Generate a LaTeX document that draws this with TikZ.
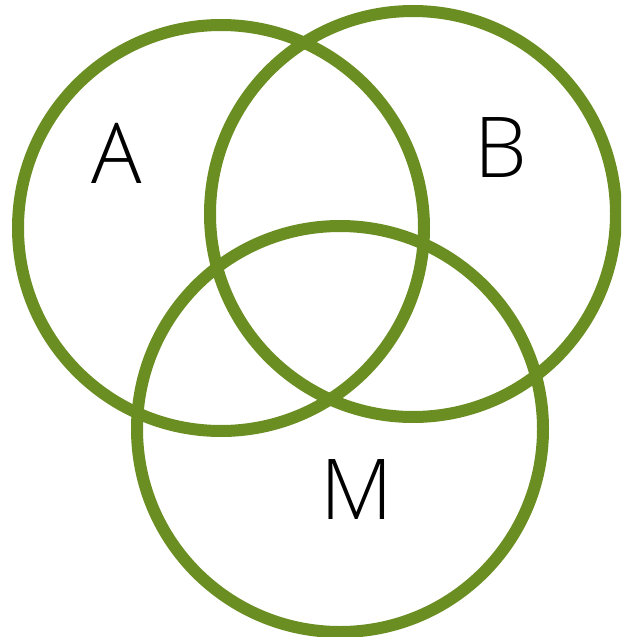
\documentclass[tikz,border=0pt]{standalone}
\usepackage{fontspec}
\setmainfont{Open Sans}[UprightFont=* Light]
\definecolor{vgreen}{RGB}{107,142,35}
\begin{document}
\begin{tikzpicture}[x=1pt,y=-1pt,
  ring/.style={draw=vgreen,line width=12pt},
  lbl/.style={font=\fontsize{84}{84}\selectfont,inner sep=0pt,anchor=center}]
\useasboundingbox (0,0) rectangle (621,637);
\begin{scope}
\clip (0,0) rectangle (621,637);
\draw[ring] (221,228) circle[radius=203];
\draw[ring] (413,214) circle[radius=203];
\draw[ring] (340,429) circle[radius=203];
\end{scope}
\node[lbl] (la) at (117,153) {\vphantom{A}A};
\node[lbl] (lb) at (501,148) {B};
\node[lbl] (lm) at (357,490) {M};
\end{tikzpicture}
\end{document}
